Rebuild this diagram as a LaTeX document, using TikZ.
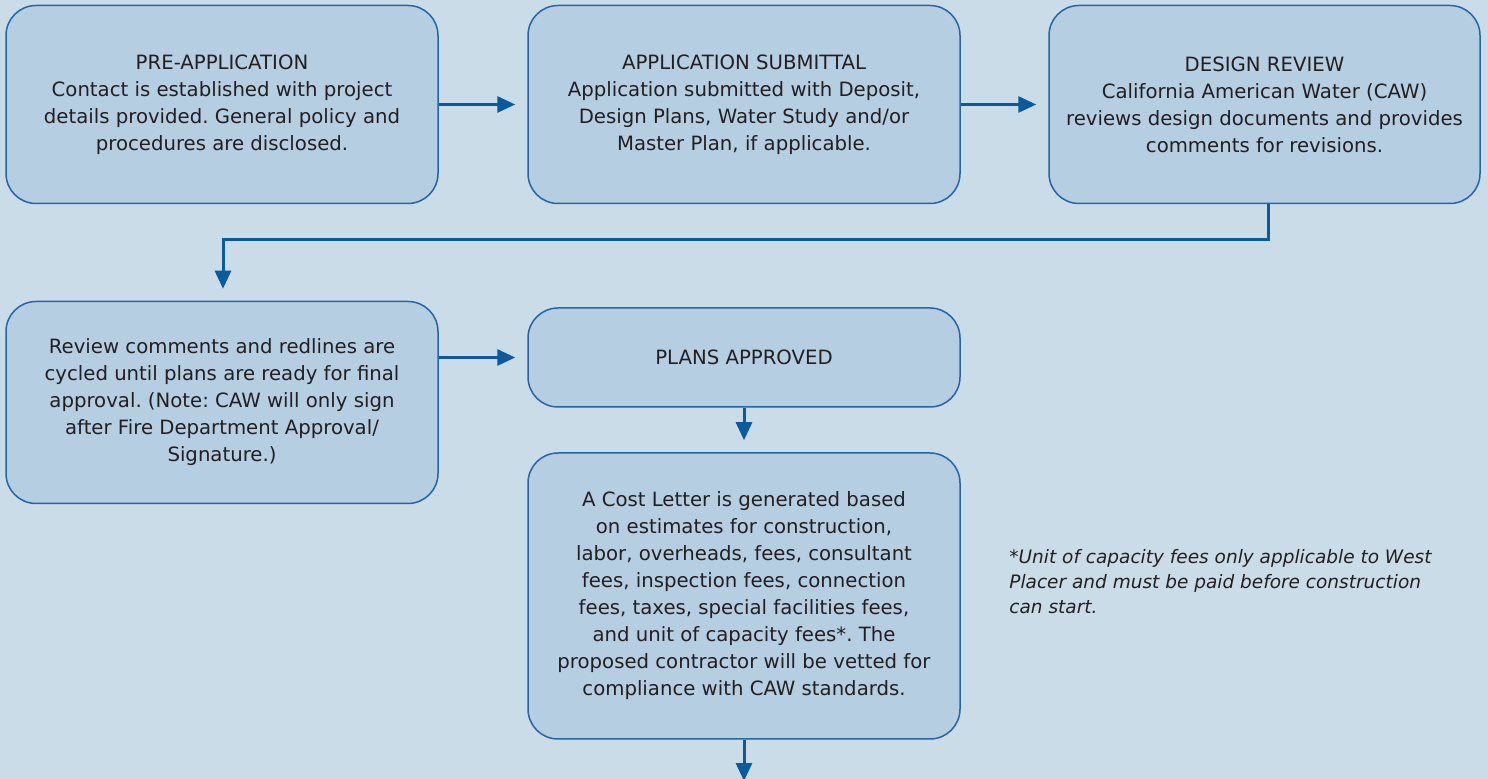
\documentclass[tikz,border=0pt]{standalone}
\usepackage{fontspec}
\setmainfont{DejaVu Sans}
\usetikzlibrary{arrows.meta}
\frenchspacing
\definecolor{bgc}{HTML}{CBDCE9}
\definecolor{boxc}{HTML}{B6CEE2}
\definecolor{edgec}{HTML}{2366A8}
\definecolor{arrc}{HTML}{0B5A9E}
\definecolor{txtc}{HTML}{231F20}
\tikzset{
  stepbox/.style={draw=edgec, fill=boxc, line width=0.75pt, rounded corners=15pt,
    align=center, text=txtc, font=\fontsize{9.85pt}{13.5pt}\selectfont, inner sep=0pt},
  flow/.style={draw=arrc, line width=1.5pt, -{Triangle[length=9pt,width=8pt]}, shorten >=6pt},
  note/.style={align=left, text=txtc, font=\fontsize{9.25pt}{12.5pt}\selectfont\itshape, inner sep=0pt}
}
\begin{document}
\begin{tikzpicture}[x=0.5pt, y=-0.5pt]
\fill[bgc] (0,0) rectangle (1488,779);
\useasboundingbox (0,0) rectangle (1488,779);

\node[stepbox, minimum width=216pt, minimum height=99pt] (b1) at (222,104.5)
  {PRE-APPLICATION\\Contact is established with project\\details provided. General policy and\\procedures are disclosed.};
\node[stepbox, minimum width=216pt, minimum height=99pt] (b2) at (744,104.5)
  {APPLICATION SUBMITTAL\\Application submitted with Deposit,\\Design Plans, Water Study and/or\\Master Plan, if applicable.};
\node[stepbox, minimum width=215.5pt, minimum height=99pt] (b3) at (1264.5,104.5)
  {DESIGN REVIEW\\California American Water (CAW)\\reviews design documents and provides\\comments for revisions.};
\node[stepbox, minimum width=216pt, minimum height=101pt] (b4) at (222,402.5)
  {Review comments and redlines are\\cycled until plans are ready for final\\approval. (Note: CAW will only sign\\after Fire Department Approval/\\Signature.)};
\node[stepbox, minimum width=216pt, minimum height=49.5pt] (b5) at (744,357.5)
  {PLANS APPROVED};
\node[stepbox, minimum width=216pt, minimum height=143pt] (b6) at (744,596)
  {A Cost Letter is generated based\\on estimates for construction,\\labor, overheads, fees, consultant\\fees, inspection fees, connection\\fees, taxes, special facilities fees,\\and unit of capacity fees*. The\\proposed contractor will be vetted for\\compliance with CAW standards.};
\node[note, anchor=north west] (fn) at (1009,549)
  {*Unit of capacity fees only applicable to West\\Placer and must be paid before construction\\can start.};

\coordinate (end) at (744,781);

\draw[flow] (b1.east) -- (b2.west);
\draw[flow] (b2.east) -- (b3.west);
\draw[flow] ([xshift=1.75pt]b3.south) -- ++(0,35) -| ([xshift=0.5pt]b4.north);
\draw[flow] (b4.east |- b5.west) -- (b5.west);
\draw[flow] (b5.south) -- (b6.north);
\draw[flow, shorten >=0pt] (b6.south) -- (end);
\end{tikzpicture}
\end{document}
